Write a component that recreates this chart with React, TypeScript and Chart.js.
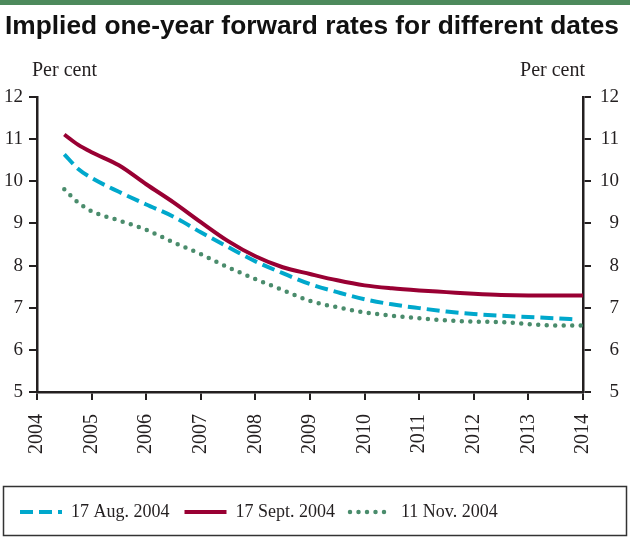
import { useEffect, useRef } from "react";
import { Chart, registerables } from "chart.js";

Chart.register(...registerables);

const TITLE = "Implied one-year forward rates for different dates";
const UNIT_LABEL = "Per cent";
const SERIES_LABELS = ["17 Aug. 2004", "17 Sept. 2004", "11 Nov. 2004"];

const YEARS = [2004.5, 2004.75, 2005, 2005.5, 2006, 2006.5, 2007, 2007.5, 2008, 2008.5, 2009, 2009.5, 2010, 2010.5, 2011, 2011.5, 2012, 2012.5, 2013, 2013.5, 2014];
const AUG_YEARS = [2004.5, 2004.75, 2005, 2005.5, 2006, 2006.5, 2007, 2007.5, 2008, 2008.5, 2009, 2009.5, 2010, 2010.5, 2011, 2011.5, 2012, 2012.5, 2013, 2013.5, 2013.9];

const AUG_VALUES = [10.64, 10.30, 10.08, 9.75, 9.45, 9.16, 8.79, 8.44, 8.10, 7.82, 7.56, 7.37, 7.20, 7.08, 6.99, 6.91, 6.85, 6.81, 6.78, 6.75, 6.72];
const SEPT_VALUES = [11.11, 10.87, 10.69, 10.38, 9.93, 9.50, 9.03, 8.58, 8.22, 7.96, 7.80, 7.65, 7.53, 7.46, 7.41, 7.37, 7.33, 7.30, 7.29, 7.29, 7.29];
const NOV_VALUES = [9.81, 9.50, 9.29, 9.07, 8.85, 8.55, 8.27, 7.96, 7.68, 7.42, 7.16, 7.01, 6.89, 6.81, 6.75, 6.70, 6.67, 6.66, 6.61, 6.58, 6.58];

const X_MIN = 2004;
const X_MAX = 2014;
const Y_MIN = 5;
const Y_MAX = 12;

const AXIS_COLOR = "#231f20";
const TEXT_COLOR = "#231f20";
const SERIF = "'Liberation Serif', 'Times New Roman', serif";

const toPoints = (xs: number[], ys: number[]) => xs.map((x, i) => ({ x, y: ys[i] }));

const decorations = {
  id: "decorations",
  beforeDraw(chart: any) {
    const { ctx, width } = chart;
    ctx.save();
    ctx.fillStyle = "#4d8a5c";
    ctx.fillRect(0, 0, width, 5);
    ctx.restore();
  },
  afterDraw(chart: any) {
    const { ctx, chartArea, width, legend } = chart;
    ctx.save();
    ctx.fillStyle = TEXT_COLOR;
    ctx.font = `20px ${SERIF}`;
    ctx.textBaseline = "alphabetic";
    ctx.textAlign = "left";
    ctx.fillText(UNIT_LABEL, chartArea.left - 5, chartArea.top - 21);
    ctx.textAlign = "right";
    ctx.fillText(UNIT_LABEL, chartArea.right + 2, chartArea.top - 21);
    // legend frame
    ctx.strokeStyle = "#333";
    ctx.lineWidth = 1.5;
    const top = legend.top - 1.5;
    ctx.strokeRect(3.5, top, width - 7, 49);
    ctx.restore();
  },
};

export default function App() {
  const ref = useRef<HTMLCanvasElement | null>(null);
  useEffect(() => {
    document.body.style.margin = "0";
    const canvas = ref.current;
    if (!canvas) return;
    const grid = {
      display: true,
      drawOnChartArea: false,
      drawTicks: true,
      tickLength: 8,
      color: AXIS_COLOR,
      lineWidth: 2,
    };
    const border = { display: true, color: AXIS_COLOR, width: 2.5 };
    const chart = new Chart(canvas, {
      type: "line",
      data: {
        datasets: [
          {
            label: SERIES_LABELS[0],
            data: toPoints(AUG_YEARS, AUG_VALUES),
            borderColor: "#00a8cc",
            backgroundColor: "#00a8cc",
            borderWidth: 4,
            borderDash: [13, 6],
            borderCapStyle: "butt",
            pointRadius: 0,
            cubicInterpolationMode: "monotone",
            fill: false,
          },
          {
            label: SERIES_LABELS[1],
            data: toPoints(YEARS, SEPT_VALUES),
            borderColor: "#990033",
            backgroundColor: "#990033",
            borderWidth: 4,
            pointRadius: 0,
            cubicInterpolationMode: "monotone",
            fill: false,
          },
          {
            label: SERIES_LABELS[2],
            data: toPoints(YEARS, NOV_VALUES),
            borderColor: "#4a8c6c",
            backgroundColor: "#4a8c6c",
            borderWidth: 4.5,
            borderDash: [0, 8.5],
            borderCapStyle: "round",
            pointRadius: 0,
            cubicInterpolationMode: "monotone",
            fill: false,
          },
        ],
      } as any,
      options: {
        responsive: false,
        animation: false,
        layout: { padding: { left: 5, right: 11, top: 0, bottom: 6 } },
        plugins: {
          title: {
            display: true,
            text: TITLE,
            align: "start",
            color: "#111",
            font: { family: "'Liberation Sans', Arial, sans-serif", weight: "bold", size: 26.5, lineHeight: 1.2 },
            padding: { top: 11, bottom: 54.2 },
          },
          legend: {
            display: true,
            position: "bottom",
            align: "start",
            labels: {
              usePointStyle: true,
              pointStyle: "line",
              pointStyleWidth: 42,
              padding: 15,
              color: TEXT_COLOR,
              font: { family: SERIF, size: 18 },
              generateLabels: (c: any) => {
                const items = Chart.defaults.plugins.legend.labels.generateLabels(c);
                items.forEach((it: any) => {
                  const ds: any = c.data.datasets[it.datasetIndex];
                  it.lineDash = ds.borderDash || [];
                  it.lineCap = ds.borderCapStyle || "butt";
                  it.lineWidth = ds.borderWidth;
                  it.strokeStyle = ds.borderColor;
                  it.fillStyle = ds.borderColor;
                  it.pointStyle = "line";
                });
                return items;
              },
            },
          },
          tooltip: { enabled: false },
        },
        scales: {
          x: {
            type: "linear",
            position: "bottom",
            min: X_MIN,
            max: X_MAX,
            grid,
            border,
            ticks: {
              stepSize: 1,
              minRotation: 90,
              maxRotation: 90,
              padding: 14,
              color: TEXT_COLOR,
              font: { family: SERIF, size: 20 },
              callback: (v: any) => String(v),
            },
            afterFit: (s: any) => {
              s.height = 96;
            },
          },
          y: {
            type: "linear",
            position: "left",
            min: Y_MIN,
            max: Y_MAX,
            grid,
            border,
            ticks: { stepSize: 1, padding: 6, color: TEXT_COLOR, font: { family: SERIF, size: 19 } },
            afterFit: (s: any) => {
              s.width = 32;
            },
          },
          y2: {
            type: "linear",
            position: "right",
            min: Y_MIN,
            max: Y_MAX,
            grid,
            border,
            ticks: { stepSize: 1, padding: 6, color: TEXT_COLOR, font: { family: SERIF, size: 19 }, crossAlign: "far" },
            afterFit: (s: any) => {
              s.width = 36;
            },
          },
        },
      } as any,
      plugins: [decorations],
    });
    return () => chart.destroy();
  }, []);
  return (
    <div style={{ width: 630, height: 537 }}>
      <canvas ref={ref} width={630} height={537} />
    </div>
  );
}
